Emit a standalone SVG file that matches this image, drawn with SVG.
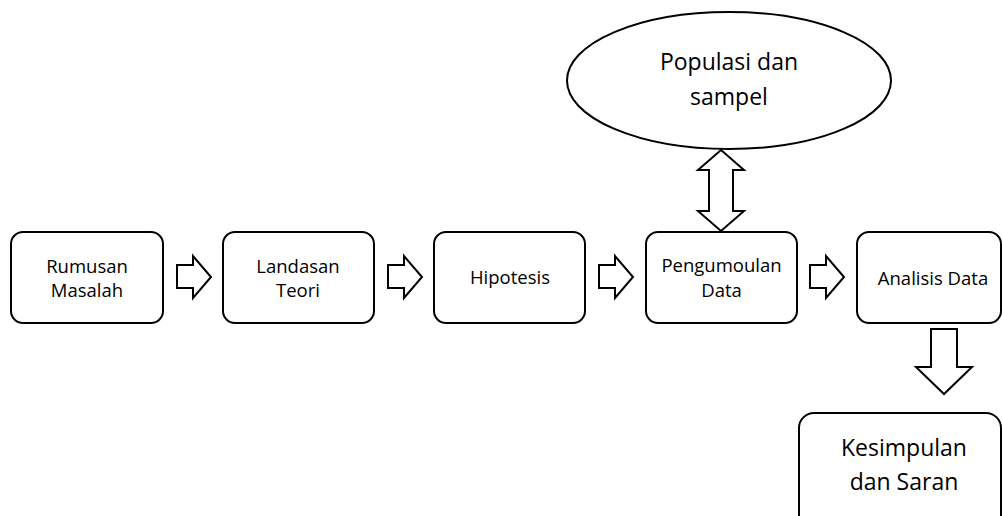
<svg xmlns="http://www.w3.org/2000/svg" width="1002" height="516" viewBox="0 0 1002 516">
<style>
.box{fill:#fff;stroke:#000;stroke-width:2}
.arr{fill:#fff;stroke:#000;stroke-width:2;stroke-linejoin:miter}
.t{font-family:"Open Sans","Noto Sans",sans-serif;font-size:18.5px;fill:#000;text-anchor:middle}
.tl{font-family:"Open Sans","Noto Sans",sans-serif;font-size:23px;fill:#000;text-anchor:middle}
</style>
<defs>
<polygon id="ra" points="0,265 16,265 16,256 34,277 16,298 16,288 0,288"/>
</defs>
<rect width="1002" height="516" fill="#fff"/>
<g id="connectors">
<use href="#ra" class="arr" x="177"/>
<use href="#ra" class="arr" x="388"/>
<use href="#ra" class="arr" x="599"/>
<use href="#ra" class="arr" x="810"/>
<polygon class="arr" points="721,150 744,170 733,170 733,211 744,211 721,231 698,211 709,211 709,170 698,170"/>
<polygon class="arr" points="931,329 957,329 957,367 972,367 944,394 916,367 931,367"/>
</g>
<g id="n-populasi">
<ellipse class="box" cx="729" cy="80.5" rx="162" ry="68.5"/>
<text class="tl" x="729" y="70">Populasi dan</text>
<text class="tl" x="729" y="105">sampel</text>
</g>
<g id="n-rumusan">
<rect class="box" x="11" y="232" width="152" height="91" rx="12"/>
<text class="t" x="87" y="273">Rumusan</text>
<text class="t" x="87" y="297">Masalah</text>
</g>
<g id="n-landasan">
<rect class="box" x="223" y="232" width="151" height="91" rx="12"/>
<text class="t" x="298" y="273">Landasan</text>
<text class="t" x="298" y="297">Teori</text>
</g>
<g id="n-hipotesis">
<rect class="box" x="434" y="232" width="151" height="91" rx="12"/>
<text class="t" x="510" y="284">Hipotesis</text>
</g>
<g id="n-pengumpulan">
<rect class="box" x="646" y="232" width="151" height="91" rx="12"/>
<text class="t" x="721.5" y="272">Pengumoulan</text>
<text class="t" x="721.5" y="297">Data</text>
</g>
<g id="n-analisis">
<rect class="box" x="857" y="232" width="144" height="91" rx="12"/>
<text class="t" x="933" y="285">Analisis Data</text>
</g>
<g id="n-kesimpulan">
<rect class="box" x="799" y="413" width="202" height="130" rx="15"/>
<text class="tl" x="904" y="456">Kesimpulan</text>
<text class="tl" x="904" y="490">dan Saran</text>
</g>
</svg>
